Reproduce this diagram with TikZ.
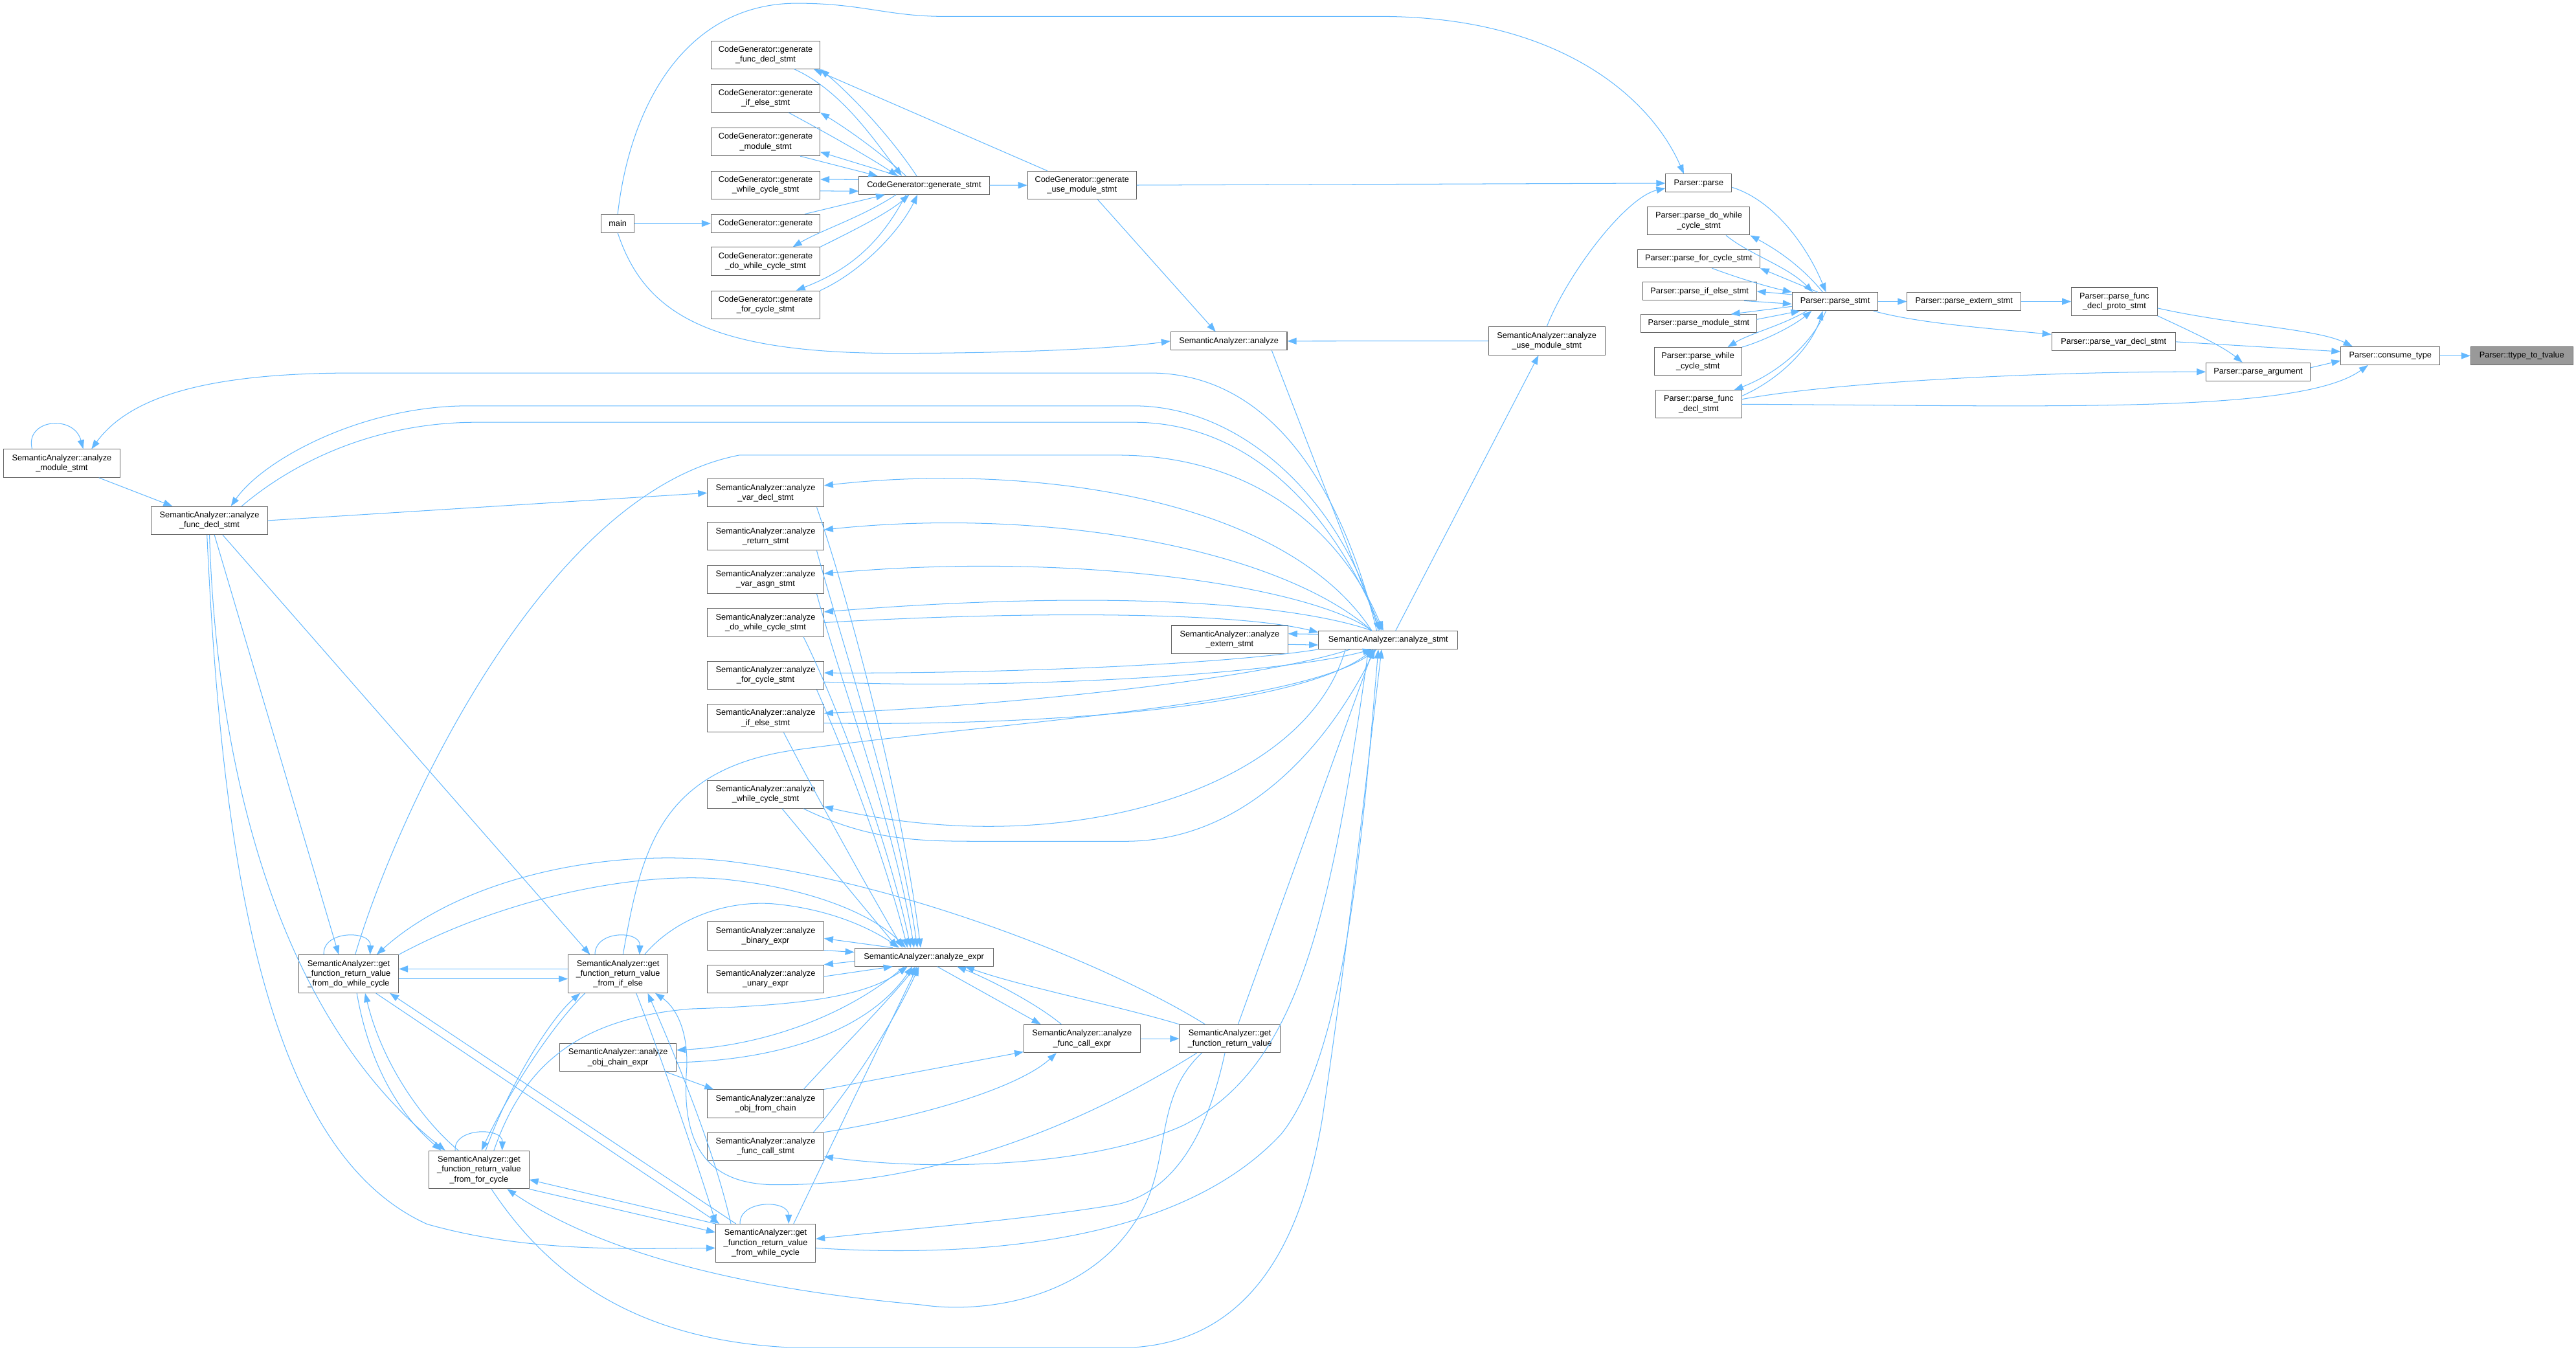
\documentclass[tikz,border=0pt]{standalone}
\usepackage{fontspec}
\setmainfont{Liberation Sans}
\usetikzlibrary{arrows.meta}
\definecolor{edgeblue}{HTML}{63B8FF}
\definecolor{boxline}{HTML}{666666}
\definecolor{hilite}{HTML}{999999}

\begin{document}
\begin{tikzpicture}[x=0.7mm, y=-0.7mm,
    fn/.style={draw=boxline, line width=0.8pt, fill=white, inner sep=0pt, align=center,
      font=\fontsize{10}{12}\selectfont, minimum height=22pt},
    two/.style={minimum height=34pt},
    three/.style={minimum height=46pt},
    cg/.style={minimum width=132pt},
    sa/.style={minimum width=141pt},
    gf/.style={minimum width=121pt, three},
    calls/.style={draw=edgeblue, line width=0.8pt, -{Triangle[length=11pt, width=8pt]}}]
    \useasboundingbox (0,0) rectangle (1568,822.8);

    \node [fn, minimum width=40pt] (main) at (376,136) {main};
    \node [fn, two, cg] (cgFunc) at (466,33.4) {CodeGenerator::generate\\\_func\_decl\_stmt};
    \node [fn, two, cg] (cgIf) at (466,59.8) {CodeGenerator::generate\\\_if\_else\_stmt};
    \node [fn, two, cg] (cgMod) at (466,86.3) {CodeGenerator::generate\\\_module\_stmt};
    \node [fn, two, cg] (cgWhile) at (466,112.7) {CodeGenerator::generate\\\_while\_cycle\_stmt};
    \node [fn, cg] (cgGen) at (466,136) {CodeGenerator::generate};
    \node [fn, two, cg] (cgDo) at (466,159) {CodeGenerator::generate\\\_do\_while\_cycle\_stmt};
    \node [fn, two, cg] (cgFor) at (466,185.5) {CodeGenerator::generate\\\_for\_cycle\_stmt};
    \node [fn, minimum width=158pt] (cgStmt) at (562.5,112.8) {CodeGenerator::generate\_stmt};
    \node [fn, two, cg] (cgUse) at (658.6,112.7) {CodeGenerator::generate\\\_use\_module\_stmt};

    \node [fn, minimum width=80pt] (pParse) at (1034,111.5) {Parser::parse};
    \node [fn, two, minimum width=124pt] (pDo) at (1034,134.5) {Parser::parse\_do\_while\\\_cycle\_stmt};
    \node [fn, minimum width=148pt] (pFor) at (1034,157.5) {Parser::parse\_for\_cycle\_stmt};
    \node [fn, minimum width=138pt] (pIf) at (1034.5,177.3) {Parser::parse\_if\_else\_stmt};
    \node [fn, minimum width=140pt] (pMod) at (1034,196.9) {Parser::parse\_module\_stmt};
    \node [fn, two, minimum width=106pt] (pWhile) at (1033.5,220) {Parser::parse\_while\\\_cycle\_stmt};
    \node [fn, two, minimum width=104pt] (pFunc) at (1034,246) {Parser::parse\_func\\\_decl\_stmt};
    \node [fn, minimum width=104pt] (pStmt) at (1117,183.5) {Parser::parse\_stmt};
    \node [fn, minimum width=138pt] (pExtern) at (1195.5,183.5) {Parser::parse\_extern\_stmt};
    \node [fn, two, minimum width=104pt] (pProto) at (1287,183.5) {Parser::parse\_func\\\_decl\_proto\_stmt};
    \node [fn, minimum width=150pt] (pVar) at (1286.5,208) {Parser::parse\_var\_decl\_stmt};
    \node [fn, minimum width=126pt] (pArg) at (1374.5,226.3) {Parser::parse\_argument};
    \node [fn, minimum width=120pt] (pConsume) at (1455,216.5) {Parser::consume\_type};
    \node [fn, fill=hilite, minimum width=124pt] (pTtype) at (1535,216.5) {Parser::ttype\_to\_tvalue};

    \node [fn, sa] (saAnalyze) at (748,207.6) {SemanticAnalyzer::analyze};
    \node [fn, two, sa] (saUseMod) at (941.5,207.5) {SemanticAnalyzer::analyze\\\_use\_module\_stmt};
    \node [fn, two, sa] (saModule) at (37.6,282) {SemanticAnalyzer::analyze\\\_module\_stmt};
    \node [fn, two, sa] (saFuncDecl) at (127.5,316.8) {SemanticAnalyzer::analyze\\\_func\_decl\_stmt};
    \node [fn, two, sa] (saVarDecl) at (466,300) {SemanticAnalyzer::analyze\\\_var\_decl\_stmt};
    \node [fn, two, sa] (saReturn) at (466,326.4) {SemanticAnalyzer::analyze\\\_return\_stmt};
    \node [fn, two, sa] (saVarAsgn) at (466,352.6) {SemanticAnalyzer::analyze\\\_var\_asgn\_stmt};
    \node [fn, two, sa] (saDoWhile) at (466,378.9) {SemanticAnalyzer::analyze\\\_do\_while\_cycle\_stmt};
    \node [fn, two, sa] (saFor) at (466,411) {SemanticAnalyzer::analyze\\\_for\_cycle\_stmt};
    \node [fn, two, sa] (saIfElse) at (466,437.1) {SemanticAnalyzer::analyze\\\_if\_else\_stmt};
    \node [fn, two, sa] (saWhile) at (466,483.4) {SemanticAnalyzer::analyze\\\_while\_cycle\_stmt};
    \node [fn, two, sa] (saExtern) at (748.5,389.2) {SemanticAnalyzer::analyze\\\_extern\_stmt};
    \node [fn, minimum width=169pt] (saStmt) at (845,389.5) {SemanticAnalyzer::analyze\_stmt};
    \node [fn, two, sa] (saBinary) at (466,569.6) {SemanticAnalyzer::analyze\\\_binary\_expr};
    \node [fn, two, sa] (saUnary) at (466,595.8) {SemanticAnalyzer::analyze\\\_unary\_expr};
    \node [fn, minimum width=168pt] (saExpr) at (562.4,582.5) {SemanticAnalyzer::analyze\_expr};
    \node [fn, two, sa] (saCallExpr) at (658.6,632.1) {SemanticAnalyzer::analyze\\\_func\_call\_expr};
    \node [fn, two, minimum width=122pt] (saGetRv) at (748.6,632.1) {SemanticAnalyzer::get\\\_function\_return\_value};
    \node [fn, two, sa] (saObjChain) at (376.2,643.6) {SemanticAnalyzer::analyze\\\_obj\_chain\_expr};
    \node [fn, two, sa] (saObjFrom) at (466,671.7) {SemanticAnalyzer::analyze\\\_obj\_from\_chain};
    \node [fn, two, sa] (saCallStmt) at (466,697.8) {SemanticAnalyzer::analyze\\\_func\_call\_stmt};
    \node [fn, gf] (gfDo) at (212.2,592.7) {SemanticAnalyzer::get\\\_function\_return\_value\\\_from\_do\_while\_cycle};
    \node [fn, gf] (gfIf) at (376.2,592.7) {SemanticAnalyzer::get\\\_function\_return\_value\\\_from\_if\_else};
    \node [fn, gf] (gfFor) at (291.6,711.9) {SemanticAnalyzer::get\\\_function\_return\_value\\\_from\_for\_cycle};
    \node [fn, gf] (gfWhile) at (466,756.5) {SemanticAnalyzer::get\\\_function\_return\_value\\\_from\_while\_cycle};

    \draw [calls] (main) to (cgGen);
    \draw [calls] (main.north) .. controls (384,60) and (420,2) .. (485,2) .. controls (525,2) and (540,10) .. (575,10) -- (840,10) .. controls (950,10) and (1005,60) .. ([xshift=-18pt]pParse.north);
    \draw [calls] (main.south) .. controls (392,190) and (430,215) .. (545,215) .. controls (620,215) and (680,212) .. (saAnalyze.west);
    \draw [calls] (cgGen) to (cgStmt);
    \draw [calls] ([xshift=-9pt]cgStmt.north) .. controls (540,80) and (515,55) .. (cgFunc.south east);
    \draw [calls] ([xshift=35pt]cgFunc.south) .. controls (512,55) and (532,85) .. ([xshift=-27pt]cgStmt.north);
    \draw [calls] ([xshift=-22pt]cgStmt.north) .. controls (535,92) and (515,78) .. (cgIf.south east);
    \draw [calls] ([xshift=28pt]cgIf.south) .. controls (505,82) and (528,95) .. ([xshift=-32pt]cgStmt.north);
    \draw [calls] ([xshift=-31pt]cgStmt.north) to ([yshift=5pt]cgMod.south east);
    \draw [calls] ([xshift=42pt]cgMod.south) to ([xshift=23pt]cgStmt.north west);
    \draw [calls] ([yshift=7pt]cgStmt.west) to ([yshift=7pt]cgWhile.east);
    \draw [calls] ([yshift=-7pt]cgWhile.east) to ([yshift=-7pt]cgStmt.west);
    \draw [calls] ([xshift=-34pt]cgStmt.south) .. controls (525,132) and (500,140) .. ([xshift=33pt]cgDo.north);
    \draw [calls] (cgDo.north east) .. controls (520,140) and (540,130) .. ([xshift=-18pt]cgStmt.south);
    \draw [calls] ([xshift=-22pt]cgStmt.south) .. controls (535,150) and (515,165) .. ([xshift=37pt]cgFor.north);
    \draw [calls] (cgFor.north east) .. controls (525,165) and (548,140) .. ([xshift=-8pt]cgStmt.south);
    \draw [calls] (cgStmt) to (cgUse);
    \draw [calls] ([xshift=-42pt]cgUse.north) to ([xshift=-8pt]cgFunc.south east);
    \draw [calls] (cgUse.east) to (pParse.west);
    \draw [calls] ([xshift=19pt]cgUse.south) to ([xshift=-16pt]saAnalyze.north);

    \draw [calls] ([yshift=-5pt]pParse.east) .. controls (1080,122) and (1100,150) .. ([xshift=-11pt]pStmt.north);
    \draw [calls] ([xshift=-15pt]pStmt.north) .. controls (1095,160) and (1078,150) .. (pDo.south east);
    \draw [calls] ([xshift=33pt]pDo.south) .. controls (1065,155) and (1088,162) .. ([xshift=-27pt]pStmt.north);
    \draw [calls] ([xshift=-21pt]pStmt.north) to (pFor.south east);
    \draw [calls] ([xshift=16pt]pFor.south) .. controls (1060,170) and (1078,175) .. (pStmt.north west);
    \draw [calls] ([yshift=-3pt]pStmt.north west) to (pIf.east);
    \draw [calls] ([xshift=54pt]pIf.south) to ([yshift=-3pt]pStmt.west);
    \draw [calls] ([yshift=-6pt]pStmt.west) to ([xshift=39pt]pMod.north);
    \draw [calls] ([yshift=5pt]pMod.east) to ([xshift=10pt]pStmt.south west);
    \draw [calls] ([xshift=18pt]pStmt.south west) .. controls (1085,198) and (1065,203) .. ([xshift=36pt]pWhile.north);
    \draw [calls] (pWhile.north east) .. controls (1075,207) and (1092,198) .. ([xshift=24pt]pStmt.south west);
    \draw [calls] ([xshift=-11pt]pStmt.south) .. controls (1100,215) and (1075,230) .. ([xshift=43pt]pFunc.north);
    \draw [calls] ([yshift=10pt]pFunc.east) .. controls (1085,230) and (1103,210) .. ([xshift=-15pt]pStmt.south);
    \draw [calls] (pStmt) to (pExtern);
    \draw [calls] (pExtern) to (pProto);
    \draw [calls] ([xshift=-6pt]pStmt.south east) .. controls (1165,196) and (1200,199) .. ([yshift=9pt]pVar.west);
    \draw [calls] ([yshift=-8pt]pProto.east) .. controls (1360,198) and (1410,200) .. ([xshift=-46pt]pConsume.north);
    \draw [calls] (pProto.south east) .. controls (1330,200) and (1352,210) .. ([xshift=-19pt]pArg.north);
    \draw [calls] (pVar.east) to ([yshift=5pt]pConsume.west);
    \draw [calls] ([yshift=5pt]pArg.east) to ([yshift=-6pt]pConsume.west);
    \draw [calls] ([yshift=6pt]pFunc.east) .. controls (1120,232) and (1250,226) .. (pArg.west);
    \draw [calls] (pFunc.east) .. controls (1250,247) and (1400,252) .. ([xshift=-27pt]pConsume.south);
    \draw [calls] (pConsume) to (pTtype);

    \draw [calls] (saUseMod.north) .. controls (955,165) and (990,120) .. ([yshift=-6pt]pParse.west);
    \draw [calls] (saUseMod) to (saAnalyze);
    \draw [calls] ([xshift=9pt]saStmt.north) to ([xshift=-10pt]saUseMod.south);
    \draw [calls] ([xshift=52pt]saAnalyze.south) to ([xshift=-10pt]saStmt.north);
    \draw [calls] ([xshift=-14pt]saStmt.north) .. controls (815,290) and (770,227) .. (700,227) -- (215,227) .. controls (130,227) and (80,240) .. ([xshift=36pt]saModule.north);
    \draw [calls] ([xshift=-36pt]saModule.north) .. controls (15,255) and (45,252) .. ([xshift=26pt]saModule.north);
    \draw [calls] (saModule) to (saFuncDecl);
    \draw [calls] ([xshift=-12pt]saStmt.north) .. controls (820,310) and (760,247) .. (690,247) -- (285,247) .. controls (220,247) and (160,280) .. ([xshift=26pt]saFuncDecl.north);
    \draw [calls] ([xshift=39pt]saFuncDecl.north) .. controls (180,280) and (230,257) .. (290,257) -- (690,257) .. controls (760,257) and (810,310) .. ([xshift=-8pt]saStmt.north);
    \draw [calls] ([xshift=8pt]gfDo.north) .. controls (240,500) and (330,300) .. (450,277) -- (680,277) .. controls (760,277) and (815,320) .. ([xshift=-6pt]saStmt.north);
    \draw [calls] (saFuncDecl.east) to (saVarDecl.west);

    \draw [calls] ([xshift=-20pt]saStmt.north) .. controls (780,300) and (620,282) .. ([yshift=9pt]saVarDecl.east);
    \draw [calls] ([xshift=-20pt]saStmt.north) .. controls (780,335) and (640,308) .. ([yshift=8pt]saReturn.east);
    \draw [calls] ([xshift=-20pt]saStmt.north) .. controls (800,358) and (660,335) .. ([yshift=7pt]saVarAsgn.east);
    \draw [calls] ([xshift=-20pt]saStmt.north) .. controls (790,368) and (680,358) .. ([yshift=13pt]saDoWhile.east);
    \draw [calls] (saDoWhile.east) .. controls (620,372) and (750,372) .. ([yshift=-2pt]saStmt.north west);
    \draw [calls] ([yshift=7pt]saStmt.west) to ([yshift=7pt]saExtern.east);
    \draw [calls] ([yshift=-6pt]saExtern.east) to ([yshift=-6pt]saStmt.west);
    \draw [calls] (saStmt.south west) .. controls (740,405) and (600,410) .. ([yshift=3pt]saFor.east);
    \draw [calls] ([yshift=-8pt]saFor.east) .. controls (620,420) and (780,410) .. ([xshift=-20pt]saStmt.south);
    \draw [calls] ([xshift=-46pt]saStmt.south) .. controls (760,415) and (600,430) .. ([yshift=6pt]saIfElse.east);
    \draw [calls] ([yshift=-6pt]saIfElse.east) .. controls (640,442) and (790,430) .. ([xshift=-18pt]saStmt.south);
    \draw [calls] ([xshift=6pt]gfIf.north) .. controls (390,520) and (400,470) .. (480,457) .. controls (600,440) and (790,430) .. ([xshift=-14pt]saStmt.south);
    \draw [calls] ([xshift=-52pt]saStmt.south) .. controls (795,480) and (650,525) .. ([yshift=-15pt]saWhile.east);
    \draw [calls] ([xshift=46pt]saWhile.south) .. controls (530,512) and (560,512) .. (600,512) -- (685,512) .. controls (760,512) and (810,450) .. ([xshift=-16pt]saStmt.south);

    \draw [calls] ([xshift=62pt]saVarDecl.south) .. controls (515,360) and (548,480) .. ([xshift=-4pt]saExpr.north);
    \draw [calls] ([xshift=62pt]saReturn.south) .. controls (512,390) and (546,490) .. ([xshift=-8pt]saExpr.north);
    \draw [calls] ([xshift=62pt]saVarAsgn.south) .. controls (510,410) and (544,500) .. ([xshift=-12pt]saExpr.north);
    \draw [calls] ([xshift=46pt]saDoWhile.south) .. controls (510,430) and (540,510) .. ([xshift=-16pt]saExpr.north);
    \draw [calls] ([xshift=62pt]saFor.south) .. controls (515,460) and (538,520) .. ([xshift=-20pt]saExpr.north);
    \draw [calls] ([xshift=22pt]saIfElse.south) .. controls (500,490) and (525,535) .. ([xshift=-26pt]saExpr.north);
    \draw [calls] ([xshift=20pt]saWhile.south) to ([xshift=-32pt]saExpr.north);

    \draw [calls] ([xshift=-38pt]saExpr.north) to ([yshift=-3pt]saBinary.east);
    \draw [calls] (saBinary.south east) to ([yshift=6pt]saExpr.west);
    \draw [calls] ([yshift=-5pt]saExpr.west) to (saUnary.north east);
    \draw [calls] ([yshift=3pt]saUnary.east) to ([xshift=-38pt]saExpr.south);
    \draw [calls] ([xshift=16pt]saExpr.south) to ([xshift=-50pt]saCallExpr.north);
    \draw [calls] ([xshift=-25pt]saCallExpr.north) .. controls (630,610) and (600,595) .. ([xshift=40pt]saExpr.south);
    \draw [calls] (saCallExpr) to (saGetRv);
    \draw [calls] (saGetRv.north west) .. controls (680,612) and (620,600) .. ([xshift=50pt]saExpr.south);
    \draw [calls] ([xshift=10pt]saGetRv.north) to ([xshift=-18pt]saStmt.south);
    \draw [calls] ([xshift=-30pt]saGetRv.north) .. controls (680,590) and (560,540) .. (450,525) .. controls (370,514) and (280,535) .. ([xshift=34pt]gfDo.north);

    \draw [calls] (gfDo.north east) .. controls (300,550) and (380,530) .. (440,535) .. controls (490,540) and (530,555) .. ([xshift=-22pt]saExpr.north);
    \draw [calls] ([xshift=32pt]gfIf.north) .. controls (410,560) and (440,548) .. (470,550) .. controls (505,553) and (530,565) .. ([xshift=-30pt]saExpr.north);
    \draw [calls] ([xshift=-30pt]gfDo.north) .. controls (196,566) and (226,566) .. ([xshift=26pt]gfDo.north);
    \draw [calls] ([xshift=-28pt]gfIf.north) .. controls (362,566) and (390,566) .. ([xshift=26pt]gfIf.north);
    \draw [calls] ([xshift=-29pt]gfFor.north) .. controls (276,686) and (306,686) .. ([xshift=28pt]gfFor.north);
    \draw [calls] ([xshift=-31pt]gfWhile.north) .. controls (450,730) and (480,730) .. ([xshift=28pt]gfWhile.north);
    \draw [calls] ([yshift=6pt]gfIf.west) to ([yshift=6pt]gfDo.east);
    \draw [calls] ([yshift=-6pt]gfDo.east) to ([yshift=-6pt]gfIf.west);
    \draw [calls] ([xshift=8pt]gfFor.north) .. controls (310,660) and (335,620) .. ([xshift=-46pt]gfIf.south);
    \draw [calls] ([xshift=-40pt]gfIf.south) .. controls (335,625) and (308,668) .. ([xshift=3pt]gfFor.north);
    \draw [calls] ([xshift=10pt]gfDo.south) .. controls (225,650) and (245,680) .. ([xshift=-46pt]gfFor.north);
    \draw [calls] ([xshift=-25pt]gfFor.north) .. controls (255,680) and (232,645) .. ([xshift=20pt]gfDo.south);
    \draw [calls] ([xshift=33pt]gfDo.south) to ([xshift=-56pt]gfWhile.north);
    \draw [calls] ([xshift=-36pt]gfWhile.north) to ([xshift=50pt]gfDo.south);
    \draw [calls] ([xshift=22pt]gfIf.south) .. controls (405,650) and (425,710) .. ([xshift=-60pt]gfWhile.north);
    \draw [calls] ([xshift=-42pt]gfWhile.north) .. controls (435,700) and (410,640) .. ([xshift=36pt]gfIf.south);
    \draw [calls] (gfFor.south east) to ([yshift=13pt]gfWhile.west);
    \draw [calls] (gfWhile.north west) to ([yshift=-12pt]gfFor.east);

    \draw [calls] ([xshift=6pt]saFuncDecl.south) to ([xshift=-12pt]gfDo.north);
    \draw [calls] ([xshift=16pt]saFuncDecl.south) to ([xshift=-34pt]gfIf.north);
    \draw [calls] (saFuncDecl.south) .. controls (132,470) and (170,620) .. ([xshift=-41pt]gfFor.north);
    \draw [calls] ([xshift=-3pt]saFuncDecl.south) .. controls (135,520) and (160,700) .. (260,745) .. controls (320,762) and (380,760) .. ([yshift=-6pt]gfWhile.west);
    \draw [calls] ([xshift=18pt]gfFor.north) .. controls (318,650) and (350,620) .. (420,614) .. controls (480,612) and (525,608) .. ([xshift=-20pt]saExpr.south);

    \draw [calls] ([xshift=-24pt]saExpr.south) .. controls (520,615) and (470,636) .. ([yshift=9pt]saObjChain.east);
    \draw [calls] ([yshift=-6pt]saObjChain.east) .. controls (480,645) and (530,625) .. ([xshift=-14pt]saExpr.south);
    \draw [calls] ([xshift=58pt]saObjChain.south) to ([xshift=-63pt]saObjFrom.north);
    \draw [calls] ([xshift=46pt]saObjFrom.north) .. controls (510,640) and (540,610) .. ([xshift=-10pt]saExpr.south);
    \draw [calls] (saObjFrom.north east) to ([yshift=-16pt]saCallExpr.west);
    \draw [calls] ([xshift=58pt]saCallStmt.north) .. controls (520,660) and (545,620) .. ([xshift=-6pt]saExpr.south);
    \draw [calls] (saCallStmt.north east) .. controls (560,680) and (620,662) .. ([xshift=-31pt]saCallExpr.south);
    \draw [calls] ([xshift=-24pt]saStmt.south) .. controls (810,560) and (790,650) .. (720,685) .. controls (660,712) and (560,712) .. ([yshift=-12pt]saCallStmt.east);

    \draw [calls] ([xshift=-40pt]saGetRv.south) .. controls (650,690) and (560,722) .. (470,721) .. controls (425,720) and (415,690) .. (418,650) .. controls (419,625) and (410,612) .. ([xshift=45pt]gfIf.south);
    \draw [calls] ([xshift=-34pt]saGetRv.south) .. controls (700,670) and (715,710) .. (690,745) .. controls (660,790) and (600,800) .. (560,794) .. controls (460,785) and (370,765) .. ([xshift=34pt]gfFor.south);
    \draw [calls] ([xshift=-6pt]saGetRv.south) .. controls (735,690) and (715,725) .. (680,733) .. controls (620,743) and (550,748) .. ([yshift=5pt]gfWhile.east);
    \draw [calls] ([yshift=-6pt]gfWhile.east) .. controls (600,766) and (720,755) .. (780,690) .. controls (820,640) and (830,500) .. ([xshift=-12pt]saStmt.south);
    \draw [calls] ([xshift=34pt]gfWhile.north) to ([xshift=-8pt]saExpr.south);
    \draw [calls] ([xshift=15pt]gfFor.south) .. controls (330,770) and (380,815) .. (480,820) -- (690,820) .. controls (770,815) and (795,740) .. (805,680) .. controls (820,580) and (832,470) .. ([xshift=-8pt]saStmt.south);
\end{tikzpicture}
\end{document}
